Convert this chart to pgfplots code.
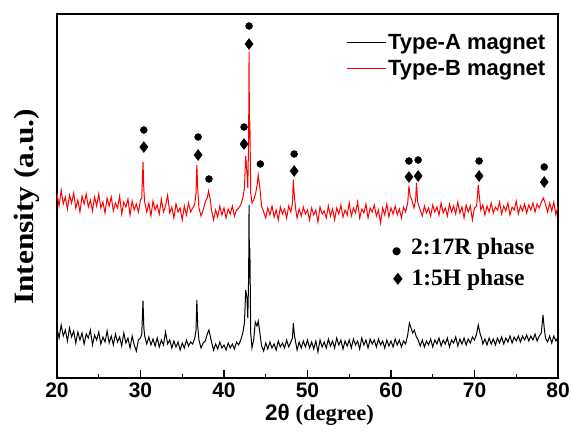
\documentclass[border=0pt]{standalone}
\usepackage{fontspec}
\setmainfont{Liberation Serif}
\newfontfamily\arialfont{Liberation Sans}
\newfontfamily\symfont{DejaVu Sans}
\usepackage{pgfplots}
\pgfplotsset{compat=1.18}

\begin{document}
\begin{tikzpicture}
\begin{axis}[
    name=main,
    scale only axis,
    width=501pt, height=364pt,
    xmin=20, xmax=80, ymin=0, ymax=364,
    xtick={20,30,...,80},
    minor x tick num=1,
    xtick pos=bottom,
    tick align=inside,
    major tick length=8pt,
    minor tick length=4pt,
    ytick=\empty,
    axis line style={line width=1.6pt},
    every tick/.style={line width=1.4pt, black},
    /pgf/number format/assume math mode=true,
    xticklabel style={font=\arialfont\bfseries\fontsize{21}{24}\selectfont, yshift=-1pt},
    xlabel={{\arialfont\bfseries 2θ} {\bfseries (degree)}},
    xlabel style={font=\fontsize{22.5}{25}\selectfont, yshift=0pt, xshift=12pt},
    ylabel={\scalebox{1.12}[1]{\bfseries Intensity (a.u.)}},
    ylabel style={font=\fontsize{28}{30}\selectfont, at={(axis description cs:-0.060,0.47)}, anchor=center},
    legend style={at={(rel axis cs:0.985,0.955)}, anchor=north east, draw=none, fill=none,
        font=\arialfont\bfseries\fontsize{22}{26}\selectfont, row sep=5pt},
    legend cell align=left,
    legend image code/.code={\draw[#1] (0pt,0pt) -- (39pt,0pt);},
]

% Type-A magnet
\addplot[black, line width=1pt] coordinates {
(20.00,50) (20.25,40) (20.50,53) (20.75,42) (21.00,48) (21.25,37) (21.50,50) (21.75,41)
(22.00,47) (22.25,35) (22.50,46) (22.75,38) (23.00,45) (23.25,34) (23.50,44) (23.75,40)
(24.00,48) (24.25,33) (24.50,43) (24.75,38) (25.00,46) (25.25,34) (25.50,41) (25.75,36)
(26.00,47) (26.25,35) (26.50,42) (26.75,33) (27.00,44) (27.25,36) (27.50,41) (27.75,32)
(28.00,45) (28.25,35) (28.50,40) (28.75,30) (29.00,42) (29.25,33) (29.50,27) (29.75,38)
(30.00,40) (30.15,44) (30.30,77) (30.40,50) (30.50,42) (30.75,34) (31.00,41) (31.25,33)
(31.50,39) (31.75,32) (32.00,40) (32.25,31) (32.50,38) (32.75,33) (33.00,46) (33.25,34)
(33.50,38) (33.75,30) (34.00,37) (34.25,31) (34.50,36) (34.75,28) (35.00,35) (35.25,30)
(35.50,38) (35.75,32) (36.00,36) (36.25,34) (36.50,40) (36.65,48) (36.75,78) (36.85,52)
(37.00,38) (37.25,30) (37.50,35) (37.75,37) (38.00,44) (38.20,48) (38.40,40) (38.60,33)
(38.75,28) (39.00,34) (39.25,29) (39.50,36) (39.75,30) (40.00,33) (40.25,28) (40.50,35)
(40.75,30) (41.00,34) (41.25,29) (41.50,36) (41.75,33) (42.00,38) (42.25,45) (42.45,55)
(42.60,88) (42.75,80) (42.85,60) (42.95,100) (43.00,173) (43.05,100) (43.10,130) (43.20,45)
(43.35,30) (43.55,38) (43.75,56) (43.95,52) (44.10,57) (44.30,45) (44.50,32) (44.75,27)
(45.00,35) (45.25,29) (45.50,36) (45.75,30) (46.00,34) (46.25,28) (46.50,37) (46.75,31)
(47.00,35) (47.25,30) (47.50,38) (47.75,31) (48.00,36) (48.20,40) (48.30,55) (48.45,42)
(48.60,35) (48.75,28) (49.00,36) (49.25,30) (49.50,37) (49.75,31) (50.00,38) (50.25,30)
(50.50,36) (50.75,29) (51.00,37) (51.25,26) (51.50,38) (51.75,31) (52.00,36) (52.25,30)
(52.50,39) (52.75,32) (53.00,37) (53.25,30) (53.50,40) (53.75,33) (54.00,38) (54.25,29)
(54.50,37) (54.75,32) (55.00,38) (55.25,30) (55.50,39) (55.75,33) (56.00,37) (56.25,29)
(56.50,40) (56.75,33) (57.00,38) (57.25,30) (57.50,39) (57.75,34) (58.00,38) (58.25,31)
(58.50,39) (58.75,33) (59.00,37) (59.25,30) (59.50,38) (59.75,32) (60.00,37) (60.25,31)
(60.50,39) (60.75,33) (61.00,38) (61.25,31) (61.50,37) (61.75,34) (62.00,43) (62.20,55)
(62.40,50) (62.60,45) (62.80,48) (63.00,42) (63.25,38) (63.50,32) (63.75,38) (64.00,31)
(64.25,37) (64.50,33) (64.75,39) (65.00,31) (65.25,38) (65.50,34) (65.75,40) (66.00,32)
(66.25,38) (66.50,34) (66.75,40) (67.00,31) (67.25,38) (67.50,35) (67.75,41) (68.00,32)
(68.25,39) (68.50,34) (68.75,40) (69.00,33) (69.25,39) (69.50,35) (69.75,41) (70.00,38)
(70.25,44) (70.45,53) (70.65,45) (70.85,40) (71.00,34) (71.25,39) (71.50,33) (71.75,40)
(72.00,34) (72.25,39) (72.50,33) (72.75,40) (73.00,35) (73.25,41) (73.50,34) (73.75,40)
(74.00,36) (74.25,42) (74.50,35) (74.75,41) (75.00,37) (75.25,42) (75.50,36) (75.75,42)
(76.00,38) (76.25,43) (76.50,37) (76.75,42) (77.00,38) (77.25,44) (77.50,37) (77.75,42)
(78.00,45) (78.20,63) (78.35,50) (78.50,40) (78.75,36) (79.00,42) (79.25,35) (79.50,42)
(79.75,37) (80.00,41)
};
\addlegendentry{Type-A magnet}

% Type-B magnet
\addplot[red, line width=1pt] coordinates {
(20.00,184) (20.25,172) (20.50,188) (20.75,174) (21.00,181) (21.25,169) (21.50,183) (21.75,175)
(22.00,185) (22.25,170) (22.50,178) (22.75,166) (23.00,182) (23.25,174) (23.50,184) (23.75,171)
(24.00,178) (24.25,167) (24.50,181) (24.75,172) (25.00,184) (25.25,170) (25.50,176) (25.75,165)
(26.00,180) (26.25,172) (26.50,181) (26.75,167) (27.00,175) (27.25,170) (27.50,182) (27.75,164)
(28.00,176) (28.25,171) (28.50,179) (28.75,163) (29.00,177) (29.25,168) (29.50,174) (29.75,166)
(30.00,178) (30.15,180) (30.30,216) (30.40,188) (30.50,176) (30.75,166) (31.00,175) (31.25,162)
(31.50,177) (31.75,168) (32.00,173) (32.25,164) (32.50,179) (32.75,166) (33.00,172) (33.25,183)
(33.50,165) (33.75,171) (34.00,160) (34.25,174) (34.50,166) (34.75,170) (35.00,158) (35.25,172)
(35.50,163) (35.75,175) (36.00,166) (36.25,170) (36.50,174) (36.65,185) (36.75,213) (36.85,190)
(37.00,170) (37.25,162) (37.50,168) (37.75,176) (38.00,180) (38.15,187) (38.35,179) (38.50,168)
(38.75,158) (39.00,168) (39.25,161) (39.50,172) (39.75,163) (40.00,170) (40.25,160) (40.50,169)
(40.75,164) (41.00,172) (41.25,162) (41.50,168) (41.75,170) (42.00,173) (42.25,180) (42.45,190)
(42.60,222) (42.75,205) (42.85,190) (42.95,240) (43.00,326) (43.05,240) (43.10,257) (43.20,185)
(43.35,175) (43.55,178) (43.80,185) (44.00,195) (44.10,203) (44.30,190) (44.50,172) (44.75,166)
(45.00,160) (45.25,170) (45.50,163) (45.75,172) (46.00,161) (46.25,168) (46.50,158) (46.75,171)
(47.00,164) (47.25,169) (47.50,160) (47.75,172) (48.00,166) (48.20,175) (48.30,198) (48.45,180)
(48.60,168) (48.75,160) (49.00,169) (49.25,162) (49.50,171) (49.75,164) (50.00,168) (50.25,158)
(50.50,170) (50.75,163) (51.00,168) (51.25,156) (51.50,171) (51.75,164) (52.00,167) (52.25,160)
(52.50,172) (52.75,162) (53.00,169) (53.25,158) (53.50,170) (53.75,164) (54.00,173) (54.25,161)
(54.50,168) (54.75,163) (55.00,175) (55.25,162) (55.50,170) (55.75,165) (56.00,176) (56.25,160)
(56.50,169) (56.75,165) (57.00,174) (57.25,160) (57.50,170) (57.75,166) (58.00,173) (58.25,162)
(58.50,168) (58.75,155) (59.00,170) (59.25,163) (59.50,174) (59.75,161) (60.00,170) (60.25,164)
(60.50,172) (60.75,163) (61.00,169) (61.25,160) (61.50,171) (61.75,166) (62.00,175) (62.15,192)
(62.30,182) (62.50,178) (62.75,170) (62.95,178) (63.05,195) (63.20,176) (63.50,168) (63.75,162)
(64.00,172) (64.25,165) (64.50,170) (64.75,162) (65.00,173) (65.25,166) (65.50,171) (65.75,163)
(66.00,175) (66.25,165) (66.50,170) (66.75,162) (67.00,174) (67.25,166) (67.50,172) (67.75,164)
(68.00,176) (68.25,165) (68.50,171) (68.75,160) (69.00,173) (69.25,166) (69.50,172) (69.75,158)
(70.00,170) (70.25,172) (70.45,193) (70.60,180) (70.75,168) (71.00,173) (71.25,163) (71.50,172)
(71.75,166) (72.00,175) (72.25,165) (72.50,171) (72.75,168) (73.00,176) (73.25,164) (73.50,172)
(73.75,167) (74.00,175) (74.25,163) (74.50,171) (74.75,168) (75.00,177) (75.25,164) (75.50,172)
(75.75,167) (76.00,174) (76.25,165) (76.50,173) (76.75,168) (77.00,175) (77.25,166) (77.50,174)
(77.75,170) (78.00,176) (78.25,180) (78.50,174) (78.75,166) (79.00,175) (79.25,167) (79.50,176)
(79.75,163) (80.00,172)
};
\addlegendentry{Type-B magnet}

% 2:17R phase markers
\addplot[only marks, mark=*, mark size=3.5pt, black, forget plot] coordinates {
(30.4,248) (36.9,241) (38.2,199) (42.4,251) (43.0,352) (44.35,214)
(48.4,224) (62.15,217) (63.25,218) (70.55,217) (78.35,211)
};
% 1:5H phase markers
\addplot[only marks, mark=diamond*, mark size=5.5pt, black, forget plot] coordinates {
(30.4,231) (36.9,223) (42.4,234) (43.0,334)
(48.4,207) (62.15,201) (63.25,202) (70.55,202) (78.35,196)
};

\node[anchor=west, inner sep=0pt, font=\bfseries\fontsize{23.5}{26}\selectfont]
    at (axis cs:60.1,129) {{\symfont\fontsize{10.5}{12}\selectfont ●}\hspace{10pt}2:17R phase};
\node[anchor=west, inner sep=0pt, font=\bfseries\fontsize{23.5}{26}\selectfont]
    at (axis cs:59.9,98) {{\symfont\fontsize{17}{18}\selectfont ♦}\hspace{6pt}1:5H phase};

\end{axis}
\pgfresetboundingbox
\path (main.south west) ++(-57pt,-59pt) coordinate (bbA);
\path (main.north east) ++(13pt,14pt) coordinate (bbB);
\path[use as bounding box] (bbA) rectangle (bbB);
\end{tikzpicture}
\end{document}
